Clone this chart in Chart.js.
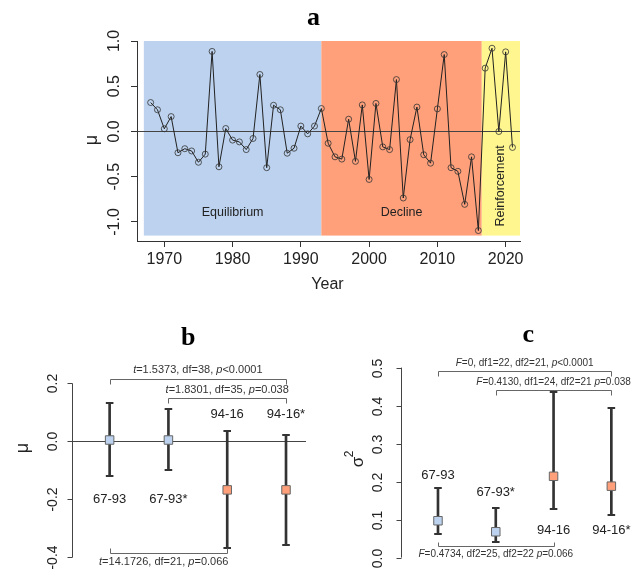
<!DOCTYPE html>
<html><head><meta charset="utf-8">
<script src="https://cdn.jsdelivr.net/npm/chart.js@4.4.0/dist/chart.umd.min.js"></script>
<style>
html,body{margin:0;padding:0;background:#fff;overflow:hidden}
#wrap{position:relative;width:638px;height:576px;background:#fff}
canvas{position:absolute;left:0;top:0}
</style></head><body>
<div id="wrap">
<canvas id="ca" width="638" height="576"></canvas>
<canvas id="cb" width="638" height="576"></canvas>
<canvas id="cc" width="638" height="576"></canvas>
</div>
<script>
// ---------- Panel a data ----------
const years = [1968,1969,1970,1971,1972,1973,1974,1975,1976,1977,
  1978,1979,1980,1981,1982,1983,1984,1985,1986,1987,
  1988,1989,1990,1991,1992,1993,1994,1995,1996,1997,
  1998,1999,2000,2001,2002,2003,2004,2005,2006,2007,
  2008,2009,2010,2011,2012,2013,2014,2015,2016,2017,
  2018,2019,2020,2021];
const muYear = [0.32,0.24,0.03,0.165,-0.235,-0.19,-0.215,-0.34,-0.25,0.885,
  -0.39,0.033,-0.095,-0.115,-0.2,-0.077,0.63,-0.40,0.29,0.24,
  -0.24,-0.185,0.06,-0.026,0.06,0.254,-0.13,-0.28,-0.305,0.136,
  -0.33,0.294,-0.53,0.31,-0.17,-0.2,0.574,-0.735,-0.09,0.27,
  -0.257,-0.35,0.25,0.85,-0.40,-0.44,-0.805,-0.28,-1.095,0.70,
  0.92,0.0,0.88,-0.176];
const xTicksA = [1970,1980,1990,2000,2010,2020];
const yTicksA = [-1.0,-0.5,0.0,0.5,1.0];
const phaseNames = ['Equilibrium','Decline','Reinforcement'];
const phaseStart = [1967,1993,2016.5];
const phaseEnd = [1993,2016.5,2022.1];
const phaseTop = 1.0, phaseBottom = -1.15;
const phaseLabelY = [-0.9,-0.9,-0.6];
const phaseLabelVertical = [false,false,true];
const phaseColors = ['#BCD2EE','#FFA07A','#FFF68F'];

// ---------- Panels b, c data ----------
const groups = ['67-93','67-93*','94-16','94-16*'];
const groupPos = [1,2,3,4];
const groupColors = ['#BCD2EE','#BCD2EE','#FFA07A','#FFA07A'];
const muMean = [0.005,0.005,-0.167,-0.167];
const muLow  = [-0.118,-0.097,-0.368,-0.356];
const muHigh = [0.131,0.111,0.035,0.024];
const varMean = [0.097,0.068,0.214,0.188];
const varLow  = [0.062,0.041,0.128,0.111];
const varHigh = [0.183,0.130,0.435,0.393];
const yTicksB = [-0.4,-0.2,0.0,0.2];
const yTicksC = [0.0,0.1,0.2,0.3,0.4,0.5];
const groupLabelYB = [-0.2,-0.2,0.095,0.095];
const groupLabelYC = [0.216,0.172,0.072,0.072];
// brackets (from group, to group, line level, tip level, text x, text y, text)
const brFromB = [1,2,1], brToB = [4,4,3];
const brYB = [0.217,0.15,-0.386], brTipB = [0.197,0.131,-0.366];
const brTextXB = [2.5,3.0,1.92], brTextYB = [0.248,0.179,-0.417];
const brTextB = ['_t_=1.5373, df=38, _p_<0.0001','_t_=1.8301, df=35, _p_=0.038','_t_=14.1726, df=21, _p_=0.066'];
const brFromC = [1,2,1], brToC = [4,4,3];
const brYC = [0.49,0.442,0.0305], brTipC = [0.477,0.428,0.042];
const brTextXC = [2.5,3.0,2.0], brTextYC = [0.511,0.462,0.009];
const brTextC = ['_F_=0, df1=22, df2=21, _p_<0.0001','_F_=0.4130, df1=24, df2=21 _p_=0.038','_F_=0.4734, df2=25, df2=22 _p_=0.066'];

const SANS = '"Liberation Sans", Arial, sans-serif';
const SERIF = '"Liberation Serif", "Times New Roman", serif';
const TXT = '#222';

function rotText(ctx, str, x, y, font, color){
  ctx.save(); ctx.translate(x,y); ctx.rotate(-Math.PI/2);
  ctx.font = font; ctx.fillStyle = color; ctx.textAlign='center'; ctx.textBaseline='middle';
  ctx.fillText(str,0,0); ctx.restore();
}
function richText(ctx, str, cx, cy, size, color){
  const parts = str.split('_'); const ws=[]; let total=0;
  parts.forEach((p,i)=>{ctx.font=(i%2?'italic ':'')+size+'px '+SANS; const w=ctx.measureText(p).width; ws.push(w); total+=w;});
  let x = cx-total/2;
  ctx.textAlign='left'; ctx.textBaseline='middle'; ctx.fillStyle=color;
  parts.forEach((p,i)=>{ctx.font=(i%2?'italic ':'')+size+'px '+SANS; ctx.fillText(p,x,cy); x+=ws[i];});
}
function title(ctx, str, x, y){
  ctx.save(); ctx.font='bold 26px '+SERIF; ctx.fillStyle='#000'; ctx.textAlign='center'; ctx.textBaseline='alphabetic';
  ctx.fillText(str,x,y); ctx.restore();
}

// ---------- Panel a ----------
const plugA = {
  id:'plugA',
  beforeDatasetsDraw(chart){
    const {ctx, chartArea, scales:{x,y}} = chart;
    ctx.save();
    phaseNames.forEach((n,i)=>{
      const x1=x.getPixelForValue(phaseStart[i]), x2=x.getPixelForValue(phaseEnd[i]);
      const y1=y.getPixelForValue(phaseTop), y2=y.getPixelForValue(phaseBottom);
      ctx.fillStyle=phaseColors[i]; ctx.fillRect(x1,y1,x2-x1,y2-y1);
    });
    phaseNames.forEach((n,i)=>{
      const cx=x.getPixelForValue((phaseStart[i]+phaseEnd[i])/2), cy=y.getPixelForValue(phaseLabelY[i]);
      const f='12.5px '+SANS;
      if(phaseLabelVertical[i]) rotText(ctx,n,cx,cy,f,TXT);
      else {ctx.font=f; ctx.fillStyle=TXT; ctx.textAlign='center'; ctx.textBaseline='middle'; ctx.fillText(n,cx,cy);}
    });
    const y0=Math.round(y.getPixelForValue(0))+0.5;
    ctx.strokeStyle='#444'; ctx.lineWidth=1;
    ctx.beginPath(); ctx.moveTo(chartArea.left,y0); ctx.lineTo(chartArea.right,y0); ctx.stroke();
    ctx.restore();
  },
  afterDraw(chart){
    const {ctx, scales:{y}} = chart;
    y.ticks.forEach(t=>rotText(ctx,t.value.toFixed(1),115,y.getPixelForValue(t.value),'16px '+SANS,TXT));
    rotText(ctx,'\u03bc',92,140,'18px '+SANS,TXT);
    ctx.save(); ctx.font='16px '+SANS; ctx.fillStyle=TXT; ctx.textAlign='center'; ctx.textBaseline='middle';
    ctx.fillText('Year',327.5,285); ctx.restore();
    title(ctx,'a',313.5,25);
  }
};
new Chart(document.getElementById('ca'),{
  type:'scatter',
  data:{datasets:[{data:years.map((yr,i)=>({x:yr,y:muYear[i]})),showLine:true,borderColor:'#222',borderWidth:1,
    pointRadius:3,pointBorderColor:'#333',pointBackgroundColor:'rgba(0,0,0,0)',pointBorderWidth:0.8,tension:0}]},
  options:{
    responsive:false,animation:false,devicePixelRatio:1,
    layout:{padding:{left:0,right:118,top:41,bottom:295}},
    plugins:{legend:{display:false},tooltip:{enabled:false}},
    scales:{
      x:{type:'linear',min:1966,max:2022.1,
        afterBuildTicks:s=>{s.ticks=xTicksA.map(v=>({value:v}));},
        afterFit:s=>{s.height=40;},
        grid:{drawOnChartArea:false,drawTicks:true,tickLength:6,color:'#333'},
        border:{display:true,color:'#333',width:1},
        ticks:{font:{family:SANS,size:16},color:TXT,padding:3,maxRotation:0,autoSkip:false,callback:v=>String(v)}},
      y:{min:-1.21,max:1.0,
        afterBuildTicks:s=>{s.ticks=yTicksA.map(v=>({value:v}));},
        afterFit:s=>{s.width=137;},
        grid:{drawOnChartArea:false,drawTicks:true,tickLength:6,color:'#333'},
        border:{display:true,color:'#333',width:1},
        ticks:{display:false}}
    }
  },
  plugins:[plugA]
});

// ---------- Panels b, c ----------
function makeGroupChart(id, cfg){
  const plug = {
    id:'plug'+id,
    beforeDatasetsDraw(chart){
      const {ctx, chartArea, scales:{x,y}} = chart;
      ctx.save();
      if(cfg.zeroLine){
        const y0=Math.round(y.getPixelForValue(0))+0.5;
        ctx.strokeStyle='#444'; ctx.lineWidth=1;
        ctx.beginPath(); ctx.moveTo(chartArea.left,y0); ctx.lineTo(chartArea.right,y0); ctx.stroke();
      }
      ctx.restore();
    },
    afterDatasetsDraw(chart){
      const {ctx, scales:{x,y}} = chart;
      ctx.save(); ctx.strokeStyle='#333'; ctx.lineWidth=2;
      cfg.low.forEach((v,i)=>{
        const px=x.getPixelForValue(groupPos[i]);
        [cfg.low[i],cfg.high[i]].forEach(val=>{
          const py=Math.round(y.getPixelForValue(val));
          ctx.beginPath(); ctx.moveTo(px-3.8,py); ctx.lineTo(px+3.8,py); ctx.stroke();
        });
      });
      ctx.restore();
    },
    afterDraw(chart){
      const {ctx, chartArea, scales:{x,y}} = chart;
      ctx.save();
      const tk=y.ticks.map(t=>t.value);
      const ax=Math.round(chartArea.left)+0.5;
      ctx.strokeStyle='#444'; ctx.lineWidth=1;
      ctx.beginPath(); ctx.moveTo(ax,y.getPixelForValue(Math.min(...tk))); ctx.lineTo(ax,y.getPixelForValue(Math.max(...tk))); ctx.stroke();
      tk.forEach(v=>{
        const py=Math.round(y.getPixelForValue(v))+0.5;
        ctx.beginPath(); ctx.moveTo(ax-5,py); ctx.lineTo(ax,py); ctx.stroke();
        rotText(ctx,v.toFixed(1),chartArea.left-cfg.tickOff,py,'14px '+SANS,TXT);
      });
      ctx.strokeStyle='#666'; ctx.lineWidth=1;
      cfg.brFrom.forEach((f,i)=>{
        const x1=Math.round(x.getPixelForValue(f))+0.5, x2=Math.round(x.getPixelForValue(cfg.brTo[i]))+0.5;
        const yb=Math.round(y.getPixelForValue(cfg.brY[i]))+0.5, yt=Math.round(y.getPixelForValue(cfg.brTip[i]))+0.5;
        ctx.beginPath(); ctx.moveTo(x1,yt); ctx.lineTo(x1,yb); ctx.lineTo(x2,yb); ctx.lineTo(x2,yt); ctx.stroke();
        richText(ctx,cfg.brText[i],x.getPixelForValue(cfg.brTextX[i]),y.getPixelForValue(cfg.brTextY[i]),cfg.brSize,'#333');
      });
      ctx.font='13px '+SANS; ctx.fillStyle=TXT; ctx.textAlign='center'; ctx.textBaseline='middle';
      groups.forEach((g,i)=>ctx.fillText(g,x.getPixelForValue(groupPos[i]),y.getPixelForValue(cfg.labelY[i])));
      cfg.ylab(ctx);
      title(ctx,cfg.title,cfg.titleX,cfg.titleY);
      ctx.restore();
    }
  };
  new Chart(document.getElementById(id),{
    type:'scatter',
    data:{datasets:[
      {type:'scatter',order:0,data:groupPos.map((p,i)=>({x:p,y:cfg.mean[i]})),pointStyle:'rect',pointRadius:6,
        pointBackgroundColor:groupColors,pointBorderColor:'#666',pointBorderWidth:1},
      {type:'bar',order:1,data:groupPos.map((p,i)=>({x:p,y:[cfg.low[i],cfg.high[i]]})),barThickness:2,
        backgroundColor:'#333',borderWidth:0,grouped:false}
    ]},
    options:{
      responsive:false,animation:false,devicePixelRatio:1,
      layout:{padding:cfg.padding},
      plugins:{legend:{display:false},tooltip:{enabled:false}},
      scales:{
        x:{type:'linear',min:0.36,max:4.34,offset:false,afterFit:s=>{s.height=0;},
          grid:{display:false},border:{display:false},ticks:{display:false}},
        y:{type:'linear',min:cfg.ymin,max:cfg.ymax,
          afterBuildTicks:s=>{s.ticks=cfg.ticks.map(v=>({value:v}));},
          afterFit:s=>{s.width=cfg.axisX;},
          grid:{display:false},border:{display:false},ticks:{display:false}}
      }
    },
    plugins:[plug]
  });
}

makeGroupChart('cb',{
  mean:muMean,low:muLow,high:muHigh,ticks:yTicksB,ymin:-0.44,ymax:0.25,axisX:72,
  padding:{left:0,right:332,top:369,bottom:0},zeroLine:true,tickOff:18.5,brSize:11,
  brFrom:brFromB,brTo:brToB,brY:brYB,brTip:brTipB,brTextX:brTextXB,brTextY:brTextYB,brText:brTextB,
  labelY:groupLabelYB,title:'b',titleX:188.3,titleY:345,
  ylab:ctx=>rotText(ctx,'\u03bc',23,448,'18px '+SANS,TXT)
});
makeGroupChart('cc',{
  mean:varMean,low:varLow,high:varHigh,ticks:yTicksC,ymin:-0.03,ymax:0.52,axisX:401,
  padding:{left:0,right:7,top:360,bottom:0},zeroLine:false,tickOff:22.5,brSize:10,
  brFrom:brFromC,brTo:brToC,brY:brYC,brTip:brTipC,brTextX:brTextXC,brTextY:brTextYC,brText:brTextC,
  labelY:groupLabelYC,title:'c',titleX:528.3,titleY:341.7,
  ylab:ctx=>{
    ctx.save(); ctx.translate(358,462); ctx.rotate(-Math.PI/2);
    ctx.fillStyle=TXT; ctx.textAlign='center'; ctx.textBaseline='middle';
    ctx.font='17px '+SANS; ctx.fillText('\u03c3',0,0);
    ctx.font='12px '+SANS; ctx.fillText('2',8,-8);
    ctx.restore();
  }
});
</script>
</body></html>
